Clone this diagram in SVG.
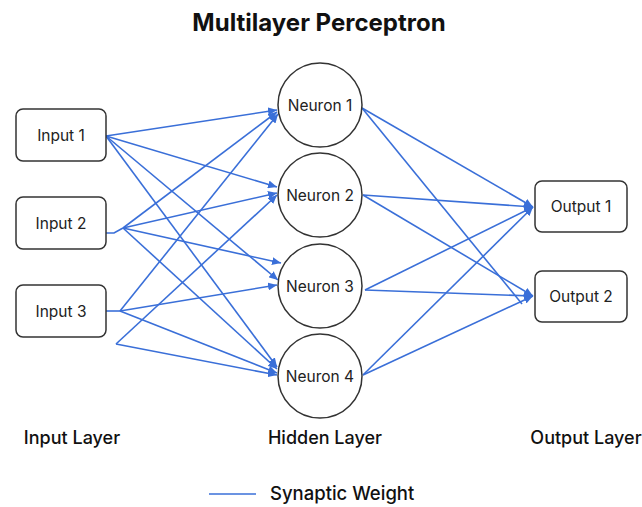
<svg xmlns="http://www.w3.org/2000/svg" width="642" height="507" viewBox="0 0 642 507">
<defs>
<marker id="arr" markerUnits="userSpaceOnUse" markerWidth="10" markerHeight="8" refX="9" refY="4" orient="auto">
<path d="M0,0 L9,4 L0,8 Z" fill="#3a6fd8"/>
</marker>
<style>
.box{fill:#fff;stroke:#333;stroke-width:1.5}
.lbl{font-family:Inter,"Liberation Sans",sans-serif;font-size:15.5px;fill:#222;text-anchor:middle}
.lay{font-family:Inter,"Liberation Sans",sans-serif;font-size:18px;font-weight:500;fill:#111;text-anchor:middle}
.w{fill:none;stroke:#3a6fd8;stroke-width:1.6;marker-end:url(#arr)}
.wn{fill:none;stroke:#3a6fd8;stroke-width:1.6}
</style>
</defs>
<rect width="642" height="507" fill="#fff"/>
<text x="319" y="31" font-family="Inter,'Liberation Sans',sans-serif" font-size="24" font-weight="bold" fill="#111" text-anchor="middle">Multilayer Perceptron</text>

<g id="connectors">
<path class="wn" d="M106,233 L114,233 L123,228"/>
<path class="wn" d="M106,311 L120,311"/>
<path class="w" d="M106,136 L277,110"/>
<path class="w" d="M106,136 L277,187"/>
<path class="w" d="M106,136 L278,280"/>
<path class="w" d="M106,136 L277,367"/>
<path class="w" d="M123,228 L277,112"/>
<path class="w" d="M123,228 L277,193"/>
<path class="w" d="M123,228 L281,263"/>
<path class="w" d="M123,228 L277,369"/>
<path class="w" d="M120,311 L278,114"/>
<path class="w" d="M120,311 L277,285"/>
<path class="w" d="M120,311 L277,373"/>
<path class="w" d="M116,344 L277,195"/>
<path class="w" d="M116,344 L277,375"/>
<path class="w" d="M362,108 L533,207"/>
<path class="wn" d="M362,108 L522,304"/>
<path class="w" d="M363,195 L533,207"/>
<path class="w" d="M363,195 L533,296"/>
<path class="w" d="M365,290 L533,207"/>
<path class="w" d="M365,290 L533,296"/>
<path class="w" d="M363,375 L533,207"/>
<path class="w" d="M363,375 L533,296"/>
</g>

<g id="input1"><rect class="box" x="16" y="109" width="90" height="52" rx="7"/><text class="lbl" x="61" y="140.5">Input 1</text></g>
<g id="input2"><rect class="box" x="16" y="197" width="90" height="52" rx="7"/><text class="lbl" x="61" y="228.5">Input 2</text></g>
<g id="input3"><rect class="box" x="16" y="285" width="90" height="52" rx="7"/><text class="lbl" x="61" y="316.5">Input 3</text></g>

<g id="neuron1"><circle class="box" cx="320" cy="105" r="42"/><text class="lbl" x="320" y="110.5">Neuron 1</text></g>
<g id="neuron2"><circle class="box" cx="320" cy="195" r="42"/><text class="lbl" x="320" y="200.5">Neuron 2</text></g>
<g id="neuron3"><circle class="box" cx="320" cy="286" r="42"/><text class="lbl" x="320" y="291.5">Neuron 3</text></g>
<g id="neuron4"><circle class="box" cx="320" cy="376" r="42"/><text class="lbl" x="320" y="381.5">Neuron 4</text></g>

<g id="output1"><rect class="box" x="535" y="181" width="92" height="51" rx="7"/><text class="lbl" x="581" y="212">Output 1</text></g>
<g id="output2"><rect class="box" x="535" y="271" width="92" height="51" rx="7"/><text class="lbl" x="581" y="302">Output 2</text></g>

<text class="lay" x="72" y="444">Input Layer</text>
<text class="lay" x="325" y="444">Hidden Layer</text>
<text class="lay" x="586" y="444">Output Layer</text>

<g id="legend">
<line x1="209" y1="494" x2="256" y2="494" stroke="#3a6fd8" stroke-width="1.6"/>
<text x="270" y="500" font-family="Inter,'Liberation Sans',sans-serif" font-size="18.5" font-weight="500" fill="#111">Synaptic Weight</text>
</g>
</svg>
